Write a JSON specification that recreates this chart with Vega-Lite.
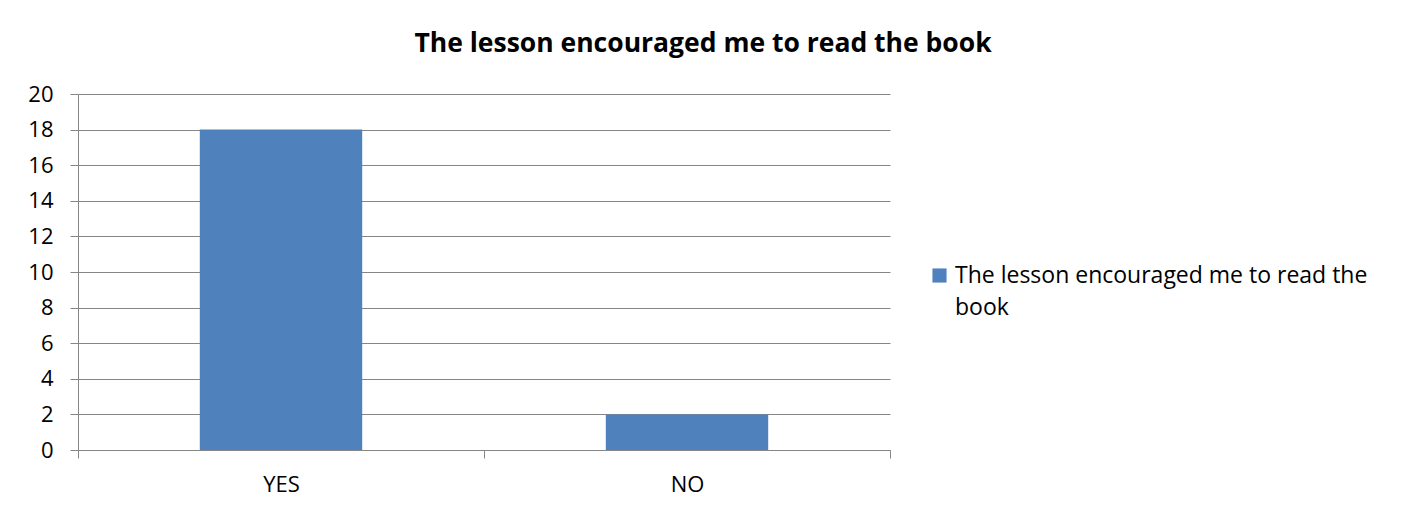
{
  "$schema": "https://vega.github.io/schema/vega-lite/v6.json",
  "autosize": "none",
  "width": 812,
  "height": 356,
  "padding": {"left": 78, "top": 94, "right": 514, "bottom": 63},
  "background": "white",
  "title": {
    "text": "The lesson encouraged me to read the book",
    "font": "Open Sans",
    "fontSize": 26.5,
    "fontWeight": "bold",
    "color": "black",
    "anchor": "middle",
    "dx": 219,
    "offset": 26
  },
  "data": {
    "values": [
      {"answer": "YES", "count": 18, "series": "The lesson encouraged me to read the book"},
      {"answer": "NO", "count": 2, "series": "The lesson encouraged me to read the book"}
    ]
  },
  "mark": {"type": "bar", "width": {"band": 0.4}},
  "encoding": {
    "x": {
      "field": "answer",
      "type": "nominal",
      "sort": ["YES", "NO"],
      "scale": {"paddingInner": 0, "paddingOuter": 0},
      "axis": {
        "title": null,
        "labelAngle": 0,
        "tickBand": "extent",
        "tickSize": 8,
        "tickColor": "#868686",
        "domainColor": "#868686",
        "labelFont": "Open Sans",
        "labelFontSize": 22,
        "labelColor": "black",
        "labelPadding": 9,
        "grid": false
      }
    },
    "y": {
      "field": "count",
      "type": "quantitative",
      "scale": {"domain": [0, 20]},
      "axis": {
        "title": null,
        "values": [0, 2, 4, 6, 8, 10, 12, 14, 16, 18, 20],
        "tickSize": 8,
        "tickColor": "#868686",
        "domainColor": "#868686",
        "gridColor": "#868686",
        "gridOpacity": 1,
        "labelFont": "Open Sans",
        "labelFontSize": 22,
        "labelColor": "black",
        "labelPadding": 17,
        "labelOffset": -7
      }
    },
    "color": {
      "field": "series",
      "type": "nominal",
      "scale": {"range": ["#4F81BD"]},
      "legend": {
        "title": null,
        "orient": "none",
        "legendX": 850,
        "legendY": 170,
        "symbolType": "square",
        "symbolSize": 200,
        "symbolStrokeWidth": 0,
        "symbolOpacity": 1,
        "labelFont": "Open Sans",
        "labelFontSize": 23,
        "labelColor": "black",
        "labelOffset": 4,
        "labelLimit": 600,
        "labelBaseline": "alphabetic",
        "labelExpr": "['The lesson encouraged me to read the', 'book']"
      }
    }
  },
  "config": {
    "view": {"stroke": null},
    "style": {"guide-label": {"lineHeight": 32, "dy": 7}}
  }
}
